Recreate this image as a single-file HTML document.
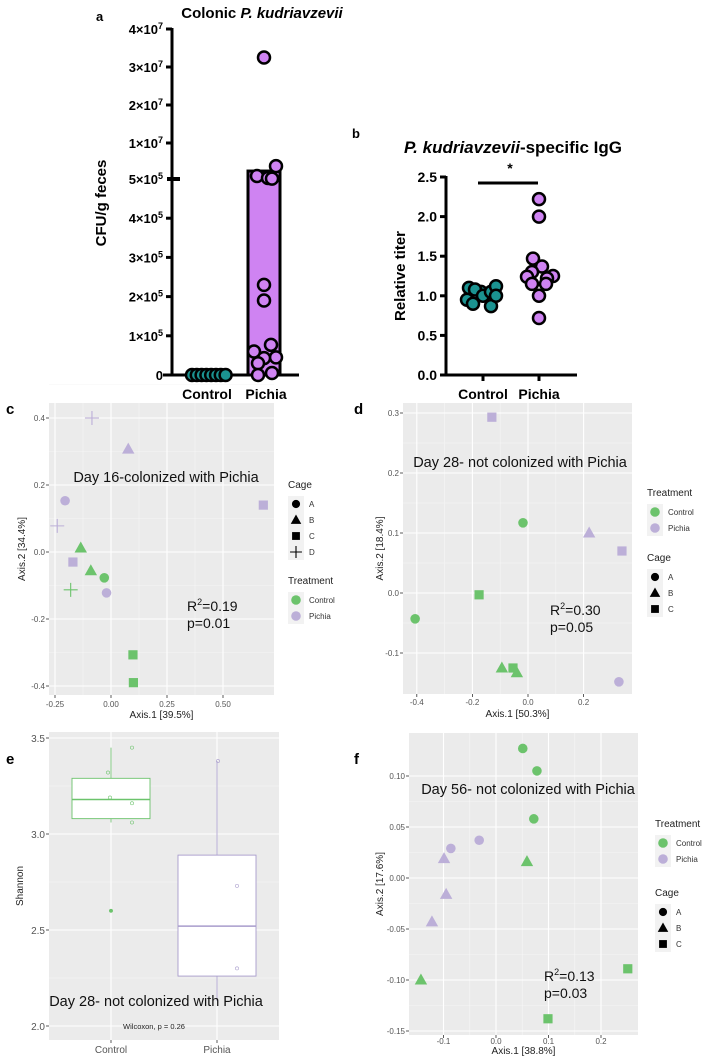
<!DOCTYPE html>
<html><head><meta charset="utf-8">
<style>
html,body{margin:0;padding:0;background:#fff;}
svg{display:block;font-family:"Liberation Sans",Arial,sans-serif;}
.b{font-weight:bold;}
</style></head>
<body>
<svg id="fig" width="702" height="1059" viewBox="0 0 702 1059" xmlns="http://www.w3.org/2000/svg">
<text x="96" y="21" class="b" font-size="13">a</text>
<text x="352" y="138" class="b" font-size="13">b</text>
<text x="6" y="414" class="b" font-size="15">c</text>
<text x="354" y="414" class="b" font-size="15">d</text>
<text x="6" y="764" class="b" font-size="15">e</text>
<text x="354" y="764" class="b" font-size="15">f</text>

<text x="262" y="18" text-anchor="middle" class="b" font-size="15">Colonic <tspan font-style="italic">P. kudriavzevii</tspan></text>
<text transform="translate(106,203) rotate(-90)" text-anchor="middle" class="b" font-size="15">CFU/g feces</text>
<text x="207" y="399" text-anchor="middle" class="b" font-size="14">Control</text>
<text x="266" y="399" text-anchor="middle" class="b" font-size="14">Pichia</text>

<text x="513" y="153" text-anchor="middle" class="b" font-size="17"><tspan font-style="italic">P. kudriavzevii</tspan>-specific IgG</text>
<text transform="translate(405,276) rotate(-90)" text-anchor="middle" class="b" font-size="15">Relative titer</text>
<text x="483" y="399" text-anchor="middle" class="b" font-size="14">Control</text>
<text x="539" y="399" text-anchor="middle" class="b" font-size="14">Pichia</text>
<line x1="478" y1="183" x2="538" y2="183" stroke="#000" stroke-width="3"/>
<text x="510" y="173" text-anchor="middle" class="b" font-size="14">*</text>

<g id="layer"></g>
</svg>
<script>
// ---------- DATA ----------
const aTickValues = [0, 1e5, 2e5, 3e5, 4e5, 5e5, 1e7, 2e7, 3e7, 4e7];
const aTickMant = ['0','1','2','3','4','5','1','2','3','4'];
const aTickExp = ['','5','5','5','5','5','7','7','7','7'];
const aControlValues = [0, 0, 0, 0, 0, 0, 0, 0];
const aPichiaValues = [3.25e7, 3.9e6, 1.3e6, 7.6e5, 6e5, 2.3e5, 1.9e5, 7.7e4, 6e4, 4.5e4, 4.3e4, 3e4, 5e3, 0];
const aPichiaMean = 2.6e6;
const bTicks = [0, 0.5, 1.0, 1.5, 2.0, 2.5];
const bControlValues = [1.1, 1.05, 1.08, 0.95, 1.0, 1.05, 0.9, 0.87, 1.12, 1.0];
const bPichiaValues = [2.22, 2.0, 1.47, 1.37, 1.3, 1.25, 1.22, 1.24, 1.15, 1.15, 1.0, 0.72];
const cX = [-0.085, 0.077, -0.205, 0.68, -0.24, -0.135, -0.17, -0.09, -0.03, -0.18, -0.02, 0.098, 0.10];
const cY = [0.40, 0.307, 0.153, 0.14, 0.078, 0.012, -0.03, -0.056, -0.077, -0.113, -0.122, -0.307, -0.39];
const cTreat = ['P','P','P','P','P','C','P','C','C','C','P','C','C'];
const cCage = ['D','B','A','C','D','B','C','B','A','D','A','C','C'];
const cXTicks = [-0.25, 0, 0.25, 0.5];
const cXTickLabels = ['-0.25','0.00','0.25','0.50'];
const cYTicks = [-0.4, -0.2, 0, 0.2, 0.4];
const cYTickLabels = ['-0.4','-0.2','0.0','0.2','0.4'];
const dX = [-0.13, -0.018, 0.22, 0.338, -0.176, -0.406, -0.094, -0.054, -0.04, 0.327];
const dY = [0.293, 0.117, 0.10, 0.07, -0.003, -0.043, -0.125, -0.125, -0.133, -0.148];
const dTreat = ['P','C','P','P','C','C','C','C','C','P'];
const dCage = ['C','A','B','C','C','A','B','C','B','A'];
const dXTicks = [-0.4, -0.2, 0, 0.2];
const dXTickLabels = ['-0.4','-0.2','0.0','0.2'];
const dYTicks = [-0.1, 0, 0.1, 0.2, 0.3];
const dYTickLabels = ['-0.1','0.0','0.1','0.2','0.3'];
const eGroups = ['Control','Pichia'];
const eQ1 = [3.08, 2.26];
const eMedian = [3.18, 2.52];
const eQ3 = [3.29, 2.89];
const eWhiskLo = [3.06, 2.13];
const eWhiskHi = [3.45, 3.38];
const eOutliers = [2.6];
const ePointsCtrl = [3.45, 3.32, 3.19, 3.16, 3.06, 2.6];
const ePointsPichia = [3.38, 2.73, 2.3];
const eYTicks = [2.0, 2.5, 3.0, 3.5];
const eYTickLabels = ['2.0','2.5','3.0','3.5'];
const fX = [0.051, 0.078, 0.072, -0.032, -0.086, -0.099, 0.059, -0.095, -0.122, -0.143, 0.251, 0.099];
const fY = [0.127, 0.105, 0.058, 0.037, 0.029, 0.019, 0.016, -0.016, -0.043, -0.10, -0.089, -0.138];
const fTreat = ['C','C','C','P','P','P','C','P','P','C','C','C'];
const fCage = ['A','A','A','A','A','B','B','B','B','B','C','C'];
const fXTicks = [-0.1, 0, 0.1, 0.2];
const fXTickLabels = ['-0.1','0.0','0.1','0.2'];
const fYTicks = [-0.15, -0.1, -0.05, 0, 0.05, 0.1];
const fYTickLabels = ['-0.15','-0.10','-0.05','0.00','0.05','0.10'];

// ---------- HELPERS ----------
const NS = 'http://www.w3.org/2000/svg';
const layer = document.getElementById('layer');
function mk(tag, attrs, parent) {
  const e = document.createElementNS(NS, tag);
  for (const k in attrs) e.setAttribute(k, attrs[k]);
  (parent || layer).appendChild(e);
  return e;
}
function txt(s, attrs, parent) {
  const t = mk('text', attrs, parent);
  t.textContent = s;
  return t;
}
const GREEN = '#6cc36c', PURPLE = '#bcafd8', TEAL = '#1b9391', VIOLET = '#cf83f2';

// ---------- PANEL A ----------
function aY(v) {
  if (v <= 5e5) return 375 - v / 1e5 * 39.2;
  if (v <= 1e7) return 179 - (v - 5e5) / 9.5e6 * 36;
  return 143 - (v - 1e7) / 1e7 * 38;
}
(function () {
  const g = mk('g', {});
  
  
  const bar = mk('rect', {x: 248, y: aY(aPichiaMean), width: 32, height: 375 - aY(aPichiaMean), fill: VIOLET, stroke: '#000', 'stroke-width': 3}, g);
  
  
  const yax = mk('line', {x1: 172, y1: 28, x2: 172, y2: 376, stroke: '#000', 'stroke-width': 3}, g);
  
  
  const xax = mk('line', {x1: 163, y1: 375, x2: 299, y2: 375, stroke: '#000', 'stroke-width': 3}, g);
  
  
  aTickValues.forEach((v, i) => {
    const y = aY(v);
    const isBreak = (v === 5e5);
    const tk = mk('line', {x1: isBreak ? 167 : 172, y1: y, x2: isBreak ? 180 : 166, y2: y, stroke: '#000', 'stroke-width': isBreak ? 4 : 3}, g);
    
    
    const t = mk('text', {x: 163, y: y + 5, 'text-anchor': 'end', 'font-size': 13, 'font-weight': 'bold'}, g);
    
    
    if (aTickExp[i]) {
      t.textContent = aTickMant[i] + '×10';
      const sp = mk('tspan', {dy: -5, 'font-size': 9}, t);
      sp.textContent = aTickExp[i];
    } else {
      t.textContent = aTickMant[i];
    }
  });
  aControlValues.forEach((v, i) => {
    const c = mk('circle', {cx: 192 + i * 4.8, cy: aY(v), r: 6, fill: TEAL, stroke: '#000', 'stroke-width': 2.5}, g);
    
    
  });
  aPichiaValues.forEach((v, i) => {
    const off = [0, 12, -7, 4, 8, 0, 0, 7, -10, 12, 0, -6, 8, -6][i];
    const c = mk('circle', {cx: 264 + off, cy: aY(v), r: 6, fill: VIOLET, stroke: '#000', 'stroke-width': 2.5}, g);
    
    
  });
})();

// ---------- PANEL B ----------
function bY(v) { return 375 - v / 2.5 * 198; }
(function () {
  const g = mk('g', {});
  
  
  const yax = mk('line', {x1: 446, y1: 176, x2: 446, y2: 376, stroke: '#000', 'stroke-width': 3}, g);
  
  
  const xax = mk('line', {x1: 446, y1: 375, x2: 577, y2: 375, stroke: '#000', 'stroke-width': 3}, g);
  
  
  [483, 539].forEach(x => {
    const tk = mk('line', {x1: x, y1: 375, x2: x, y2: 381, stroke: '#000', 'stroke-width': 3}, g);
    
    
  });
  bTicks.forEach(v => {
    const y = bY(v);
    const tk = mk('line', {x1: 440, y1: y, x2: 446, y2: y, stroke: '#000', 'stroke-width': 3}, g);
    
    
    const t = txt(v.toFixed(1), {x: 437, y: y + 5, 'text-anchor': 'end', 'font-size': 14, 'font-weight': 'bold'}, g);
    
    
  });
  const cOff = [-10, 2, -4, -12, 4, 12, -6, 12, 17, 17];
  bControlValues.forEach((v, i) => {
    const c = mk('circle', {cx: 483 + cOff[i] - 4, cy: bY(v), r: 6, fill: TEAL, stroke: '#000', 'stroke-width': 2.5}, g);
    
    
  });
  const pOff = [0, 0, -6, 3, -7, 14, 8, -12, -7, 7, 0, 0];
  bPichiaValues.forEach((v, i) => {
    const c = mk('circle', {cx: 539 + pOff[i], cy: bY(v), r: 6, fill: VIOLET, stroke: '#000', 'stroke-width': 2.5}, g);
    
    
  });
})();

// ---------- ggplot panel helper ----------
function panelBg(g, L, T, R, B, xs, ys, xMinor, yMinor, prefix) {
  const bg = mk('rect', {x: L, y: T, width: R - L, height: B - T, fill: '#ebebeb'}, g);
  
  
  xMinor.forEach(x => { const l = mk('line', {x1: x, y1: T, x2: x, y2: B, stroke: '#f6f6f6', 'stroke-width': 0.6}, g);   });
  yMinor.forEach(y => { const l = mk('line', {x1: L, y1: y, x2: R, y2: y, stroke: '#f6f6f6', 'stroke-width': 0.6}, g);   });
  xs.forEach(x => { const l = mk('line', {x1: x, y1: T, x2: x, y2: B, stroke: '#fff', 'stroke-width': 1.1}, g);   });
  ys.forEach(y => { const l = mk('line', {x1: L, y1: y, x2: R, y2: y, stroke: '#fff', 'stroke-width': 1.1}, g);   });
}
function marker(g, shape, x, y, color, s) {
  s = s || 1;
  let e;
  if (shape === 'A') e = mk('circle', {cx: x, cy: y, r: 4.8 * s, fill: color}, g);
  else if (shape === 'B') e = mk('polygon', {points: `${x},${y - 6.5 * s} ${x + 6.2 * s},${y + 4.5 * s} ${x - 6.2 * s},${y + 4.5 * s}`, fill: color}, g);
  else if (shape === 'C') e = mk('rect', {x: x - 4.6 * s, y: y - 4.6 * s, width: 9.2 * s, height: 9.2 * s, fill: color}, g);
  else e = mk('path', {d: `M${x - 7 * s},${y}H${x + 7 * s}M${x},${y - 7 * s}V${y + 7 * s}`, stroke: color, 'stroke-width': 1.1, fill: 'none'}, g);
  return e;
}
function midpoints(arr) { const o = []; for (let i = 0; i < arr.length - 1; i++) o.push((arr[i] + arr[i + 1]) / 2); return o; }

function pcoa(cfg) {
  const g = mk('g', {});
  
  
  const sx = v => cfg.x0 + v * cfg.kx, sy = v => cfg.y0 - v * cfg.ky;
  const xs = cfg.xTicks.map(sx), ys = cfg.yTicks.map(sy);
  const xm = midpoints(xs).concat(cfg.extraXMinor || []), ym = midpoints(ys).concat(cfg.extraYMinor || []);
  panelBg(g, cfg.L, cfg.T, cfg.R, cfg.B, xs, ys, xm, ym, cfg.prefix);
  cfg.xTicks.forEach((v, i) => {
    const tk = mk('line', {x1: sx(v), y1: cfg.B, x2: sx(v), y2: cfg.B + 3, stroke: '#333', 'stroke-width': 0.8}, g);
    
    
    const t = txt(cfg.xLabels[i], {x: sx(v), y: cfg.B + cfg.xTickDy, 'text-anchor': 'middle', 'font-size': 8, fill: '#555'}, g);
    
    
  });
  cfg.yTicks.forEach((v, i) => {
    const tk = mk('line', {x1: cfg.L - 3, y1: sy(v), x2: cfg.L, y2: sy(v), stroke: '#333', 'stroke-width': 0.8}, g);
    
    
    const t = txt(cfg.yLabels[i], {x: cfg.L - 4, y: sy(v) + 3, 'text-anchor': 'end', 'font-size': 8, fill: '#555'}, g);
    
    
  });
  const xt = txt(cfg.xTitle, {x: (cfg.L + cfg.R) / 2, y: cfg.B + cfg.xTitleDy, 'text-anchor': 'middle', 'font-size': 10, fill: '#222'}, g);
  
  
  const yt = txt(cfg.yTitle, {transform: `translate(${cfg.yTitleX},${(cfg.T + cfg.B) / 2}) rotate(-90)`, 'text-anchor': 'middle', 'font-size': 10, fill: '#222'}, g);
  
  
  const an = txt(cfg.annot, {x: cfg.annotX, y: cfg.annotY, 'text-anchor': 'middle', 'font-size': 14.5, fill: '#111'}, g);
  
  
  const r2 = mk('text', {x: cfg.statX, y: cfg.statY, 'font-size': 14, fill: '#111'}, g);
  
  
  r2.textContent = 'R';
  const sup = mk('tspan', {dy: -6, 'font-size': 9}, r2); sup.textContent = '2';
  const rest = mk('tspan', {dy: 6}, r2); rest.textContent = '=' + cfg.r2;
  const pv = txt('p=' + cfg.p, {x: cfg.statX, y: cfg.statY + 17, 'font-size': 14, fill: '#111'}, g);
  
  
  cfg.X.forEach((v, i) => {
    const m = marker(g, cfg.cage[i], sx(v), sy(cfg.Y[i]), cfg.treat[i] === 'C' ? GREEN : PURPLE);
    
    
  });
  cfg.legends.forEach(lg => {
    const h = txt(lg.title, {x: lg.x, y: lg.y, 'font-size': 10, fill: '#222'}, g);
    
    
    lg.items.forEach((it, j) => {
      const yy = lg.y + 16 + j * lg.step;
      const key = mk('rect', {x: lg.x, y: yy - 8, width: 16, height: 16, fill: '#f2f2f2'}, g);
      
      
      const m = lg.type === 'treat' ? marker(g, 'A', lg.x + 8, yy, it === 'Control' ? GREEN : PURPLE) : marker(g, it, lg.x + 8, yy, '#000', 0.85);
      
      
      const t = txt(it, {x: lg.x + 21, y: yy + 3, 'font-size': 8, fill: '#333'}, g);
      
      
    });
  });
}

pcoa({name: 'panel-c-pcoa-day16', prefix: 'panel-c', L: 49, T: 403, R: 274, B: 695, xTickDy: 12, xTitleDy: 23,
  x0: 111, kx: 224, y0: 552, ky: 335, xTicks: cXTicks, xLabels: cXTickLabels, yTicks: cYTicks, yLabels: cYTickLabels,
  extraYMinor: [418 - 33.5], X: cX, Y: cY, treat: cTreat, cage: cCage,
  xTitle: 'Axis.1   [39.5%]', yTitle: 'Axis.2   [34.4%]', yTitleX: 25,
  annot: 'Day 16-colonized with Pichia', annotX: 166, annotY: 482, statX: 187, statY: 611, r2: '0.19', p: '0.01',
  legends: [{title: 'Cage', x: 288, y: 488, step: 16, type: 'cage', items: ['A', 'B', 'C', 'D']},
            {title: 'Treatment', x: 288, y: 584, step: 16, type: 'treat', items: ['Control', 'Pichia']}]});

pcoa({name: 'panel-d-pcoa-day28', prefix: 'panel-d', L: 403, T: 403, R: 632, B: 694, xTickDy: 11, xTitleDy: 23,
  x0: 528, kx: 278, y0: 593, ky: 600, xTicks: dXTicks, xLabels: dXTickLabels, yTicks: dYTicks, yLabels: dYTickLabels,
  X: dX, Y: dY, treat: dTreat, cage: dCage,
  xTitle: 'Axis.1   [50.3%]', yTitle: 'Axis.2   [18.4%]', yTitleX: 383,
  annot: 'Day 28- not colonized with Pichia', annotX: 520, annotY: 467, statX: 550, statY: 615, r2: '0.30', p: '0.05',
  legends: [{title: 'Treatment', x: 647, y: 496, step: 16, type: 'treat', items: ['Control', 'Pichia']},
            {title: 'Cage', x: 647, y: 561, step: 16, type: 'cage', items: ['A', 'B', 'C']}]});

pcoa({name: 'panel-f-pcoa-day56', prefix: 'panel-f', L: 409, T: 733, R: 638, B: 1035, xTickDy: 9, xTitleDy: 19,
  x0: 496, kx: 525, y0: 878, ky: 1020, xTicks: fXTicks, xLabels: fXTickLabels, yTicks: fYTicks, yLabels: fYTickLabels,
  X: fX, Y: fY, treat: fTreat, cage: fCage,
  xTitle: 'Axis.1   [38.8%]', yTitle: 'Axis.2   [17.6%]', yTitleX: 383,
  annot: 'Day 56- not colonized with Pichia', annotX: 528, annotY: 794, statX: 544, statY: 981, r2: '0.13', p: '0.03',
  legends: [{title: 'Treatment', x: 655, y: 827, step: 16, type: 'treat', items: ['Control', 'Pichia']},
            {title: 'Cage', x: 655, y: 896, step: 16, type: 'cage', items: ['A', 'B', 'C']}]});

// ---------- PANEL E ----------
(function () {
  const g = mk('g', {});
  
  
  const L = 49, T = 732, R = 279, B = 1040;
  const sy = v => 1026 - (v - 2.0) / 0.5 * 96;
  const gx = [111, 217];
  const ys = eYTicks.map(sy);
  panelBg(g, L, T, R, B, gx, ys, [], midpoints(ys), 'panel-e');
  eYTicks.forEach((v, i) => {
    const tk = mk('line', {x1: L - 3, y1: sy(v), x2: L, y2: sy(v), stroke: '#333', 'stroke-width': 0.8}, g);
    
    
    const t = txt(eYTickLabels[i], {x: L - 4, y: sy(v) + 4, 'text-anchor': 'end', 'font-size': 10, fill: '#555'}, g);
    
    
  });
  eGroups.forEach((name, i) => {
    const col = i === 0 ? GREEN : '#a89ccc';
    const tk = mk('line', {x1: gx[i], y1: B, x2: gx[i], y2: B + 3, stroke: '#333', 'stroke-width': 0.8}, g);
    
    
    const t = txt(name, {x: gx[i], y: B + 13, 'text-anchor': 'middle', 'font-size': 10, fill: '#555'}, g);
    
    
    const w = mk('line', {x1: gx[i], y1: sy(eWhiskHi[i]), x2: gx[i], y2: sy(eWhiskLo[i]), stroke: col, 'stroke-width': 0.8}, g);
    
    
    const bx = mk('rect', {x: gx[i] - 39, y: sy(eQ3[i]), width: 78, height: sy(eQ1[i]) - sy(eQ3[i]), fill: '#fff', stroke: col, 'stroke-width': 0.9}, g);
    
    
    const md = mk('line', {x1: gx[i] - 39, y1: sy(eMedian[i]), x2: gx[i] + 39, y2: sy(eMedian[i]), stroke: col, 'stroke-width': 1.5}, g);
    
    
  });
  eOutliers.forEach(v => {
    const o = mk('circle', {cx: 111, cy: sy(v), r: 1.8, fill: GREEN}, g);
    
    
  });
  const cj = [21, -3, -1, 21, 21, 0];
  ePointsCtrl.forEach((v, i) => {
    const p = mk('circle', {cx: 111 + cj[i], cy: sy(v), r: 1.6, fill: 'none', stroke: GREEN, 'stroke-width': 0.6}, g);
    
    
  });
  const pj = [1, 20, 20];
  ePointsPichia.forEach((v, i) => {
    const p = mk('circle', {cx: 217 + pj[i], cy: sy(v), r: 1.6, fill: 'none', stroke: '#a89ccc', 'stroke-width': 0.6}, g);
    
    
  });
  const yt = txt('Shannon', {transform: 'translate(23,886) rotate(-90)', 'text-anchor': 'middle', 'font-size': 10, fill: '#222'}, g);
  
  
  const an = txt('Day 28- not colonized with Pichia', {x: 156, y: 1006, 'text-anchor': 'middle', 'font-size': 14.5, fill: '#111'}, g);
  
  
  const wt = txt('Wilcoxon, p = 0.26', {x: 154, y: 1029, 'text-anchor': 'middle', 'font-size': 7.5, fill: '#222'}, g);
  
  
})();
</script>
</body></html>
